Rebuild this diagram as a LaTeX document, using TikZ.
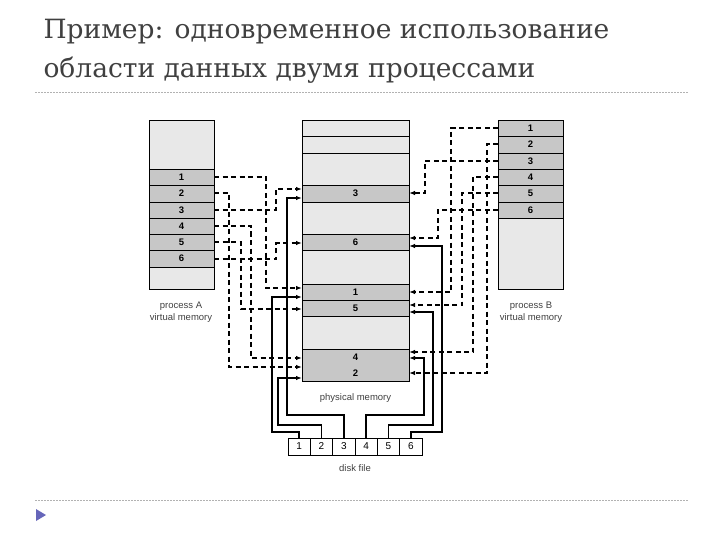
\documentclass[tikz,border=0pt]{standalone}
\usepackage{fontspec}
\setmainfont{DejaVu Serif}
\newfontfamily\dsans{Liberation Sans}
\usetikzlibrary{arrows.meta,calc}
\begin{document}
\begin{tikzpicture}[x=1pt,y=-1pt,
  slot/.style={draw,line width=0.8pt,fill=black!22,inner sep=0pt,font=\dsans\bfseries\fontsize{9.5}{10}\selectfont},
  cell/.style={draw,line width=0.6pt,fill=white,minimum width=22.3pt,minimum height=17pt,inner sep=0pt,font=\dsans\fontsize{10}{10}\selectfont},
  lbl/.style={font=\dsans\fontsize{9.5}{11.5}\selectfont,align=center,text=black!75},
  dl/.style={line width=1.4pt,dash pattern=on 5pt off 3.5pt,-{Latex[length=6pt,width=4.5pt]}},
  sl/.style={line width=1.4pt,-{Latex[length=6pt,width=4.5pt]}}]
\useasboundingbox (0,0) rectangle (720,540);
% title
\node[anchor=west,text=black!75,font=\fontsize{26.5}{30}\selectfont] (t1) at (40,32) {Пример: одновременное использование};
\node[anchor=west,text=black!75,font=\fontsize{26.5}{30}\selectfont] (t2) at (40,70) {области данных двумя процессами};
\draw[black!30,dash pattern=on 2pt off 1pt] (35,92) -- (688,92);
\draw[black!30,dash pattern=on 2pt off 1pt] (35,500) -- (688,500);
\fill[black!45!blue!60] (36,509) -- (46,515) -- (36,521) -- cycle;
% process A
\draw[line width=0.8pt,fill=black!9] (149,120) rectangle (214,289);
\foreach \i/\a/\b in {1/169/185,2/185/202,3/202/218,4/218/234,5/234/250,6/250/267}
  \draw[slot] (149,\a) rectangle node (a\i) {\i} (214,\b);
\node[lbl] (la) at (181,312) {process A\\virtual memory};
% process B
\draw[line width=0.8pt,fill=black!9] (498,120) rectangle (563,289);
\foreach \i/\a/\b in {1/120/136,2/136/153,3/153/169,4/169/185,5/185/202,6/202/218}
  \draw[slot] (498,\a) rectangle node (b\i) {\i} (563,\b);
\node[lbl] (lb) at (531,312) {process B\\virtual memory};
% physical memory
\draw[line width=0.8pt,fill=black!9] (302,120) rectangle (409,381);
\draw[line width=0.8pt] (302,136) -- (409,136) (302,153) -- (409,153);
\draw[slot] (302,185) rectangle node (p3) {3} (409,202);
\draw[slot] (302,234) rectangle node (p6) {6} (409,250);
\draw[slot] (302,284) rectangle node (p1) {1} (409,300);
\draw[slot] (302,300) rectangle node (p5) {5} (409,316);
\draw[slot] (302,349) rectangle (409,381);
\node[slot,draw=none,fill=none] (p4) at (355.5,357) {4};
\node[slot,draw=none,fill=none] (p2) at (355.5,373) {2};
\node[lbl] (lp) at (355.5,398) {physical memory};
% disk file
\foreach \i in {1,...,6}
  \node[cell] (d\i) at ({288+22.33*(\i-0.5)},446.5) {\i};
\node[lbl] (ld) at (355,468) {disk file};
% A dashed
\draw[dl] (214,177) -| (266,288) -- (302,288);
\draw[dl] (214,193) -| (229,367) -- (302,367);
\draw[dl] (214,210) -| (276,189) -- (302,189);
\draw[dl] (214,226) -| (251,358) -- (302,358);
\draw[dl] (214,242) -| (241,309) -- (302,309);
\draw[dl] (214,259) -| (276,243) -- (302,243);
% B dashed
\draw[dl] (498,128) -| (451,292) -- (409,292);
\draw[dl] (498,144) -| (487,373) -- (409,373);
\draw[dl] (498,161) -| (425,193) -- (409,193);
\draw[dl] (498,177) -| (473,352) -- (409,352);
\draw[dl] (498,193) -| (462,305) -- (409,305);
\draw[dl] (498,210) -| (438,238) -- (409,238);
% disk solid
\draw[sl] (d1.north) |- (272,432) |- (302,297);
\draw[sl] (d2.north) |- (278,425) |- (302,378);
\draw[sl] (d3.north) |- (287,415) |- (302,198);
\draw[sl] (d4.north) |- (424,415) |- (409,358);
\draw[sl] (d5.north) |- (433,425) |- (409,312);
\draw[sl] (d6.north) |- (442,432) |- (409,246);
\end{tikzpicture}
\end{document}
